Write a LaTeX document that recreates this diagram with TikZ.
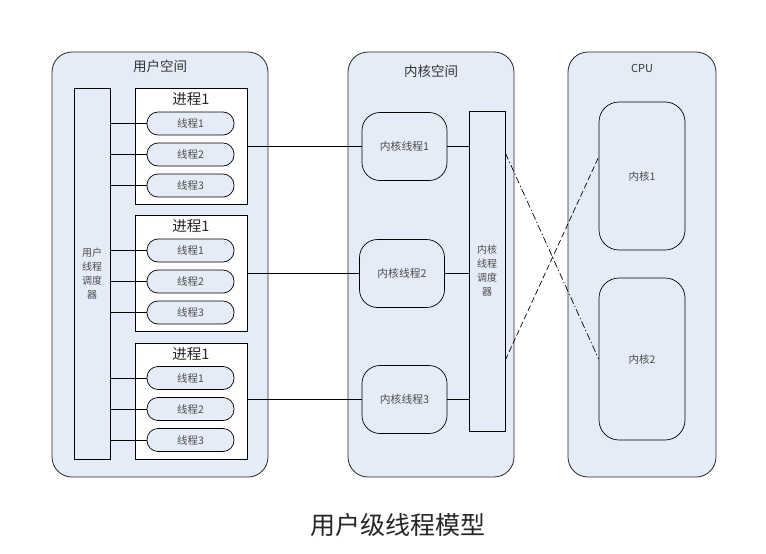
\documentclass[tikz,border=0pt]{standalone}
\usepackage{fontspec}
\setmainfont{Noto Sans CJK SC}
\definecolor{spacebg}{RGB}{230,236,247}
\tikzset{
  space/.style={draw=black!85, fill=spacebg, rounded corners=20pt, line width=0.8pt},
  bar/.style={draw, fill=spacebg, minimum width=36pt, align=center, font=\fontsize{10}{14}\selectfont, text=black!70},
  procbox/.style={draw, fill=white, minimum width=112pt, minimum height=116pt},
  thread/.style={draw, fill=spacebg, rounded corners=11pt, minimum width=87pt, minimum height=23pt, font=\fontsize{10.5}{12}\selectfont, text=black!70},
  kthread/.style={draw, fill=spacebg, rounded corners=18pt, minimum width=85pt, minimum height=68pt, font=\fontsize{10.8}{12}\selectfont, text=black!70},
  core/.style={draw, fill=spacebg, rounded corners=20pt, minimum width=86pt, font=\fontsize{10.5}{12}\selectfont, text=black!70},
  title/.style={font=\fontsize{13.5}{15}\selectfont, text=black!80, anchor=north},
}
\begin{document}
\begin{tikzpicture}[x=1pt, y=-1pt, line width=0.7pt]
  \useasboundingbox[fill=white] (0,0) rectangle (766,554);
  % three spaces
  \node[space, minimum width=216pt, minimum height=425pt] (user) at (160,264.5) {};
  \node[space, minimum width=166pt, minimum height=425pt] (kern) at (431,264.5) {};
  \node[space, minimum width=148pt, minimum height=425pt] (cpu) at (642,264.5) {};
  \node[title, yshift=-5pt] at (user.north) {用户空间};
  \node[title, yshift=-10pt] at (kern.north) {内核空间};
  \node[title, yshift=-9pt, font=\fontsize{11}{13}\selectfont] at (cpu.north) {CPU};

  % schedulers
  \node[bar, minimum height=371pt] (ubar) at (92,273.5) {用户\\线程\\调度\\器};
  \node[bar, minimum height=320pt] (kbar) at (487,271) {内核\\线程\\调度\\器};

  % kernel threads
  \node[kthread] (kt1) at (404.5,146.5) {内核线程1};
  \node[kthread] (kt2) at (402,273.5) {内核线程2};
  \node[kthread] (kt3) at (404.5,399.5) {内核线程3};
  \foreach \k in {1,2,3}{\draw (kt\k.east) -- (kt\k.east -| kbar.west);}

  % processes with their threads
  \foreach \p/\yc in {1/146.5,2/273.5,3/401}{
    \node[procbox] (p\p) at (191,\yc) {};
    \node[title, yshift=-1pt, font=\fontsize{14.5}{16}\selectfont, text=black!85] at (p\p.north) {进程1};
    \foreach \t/\dy in {1/-23,2/8,3/39}{
      \node[thread] (t\p\t) at (190.5,{\yc+\dy}) {线程\t};
      \draw (t\p\t.west -| ubar.east) -- (t\p\t.west);
    }
    \draw (kt\p.west -| p\p.east) -- (kt\p.west);
  }

  % cores
  \node[core, minimum height=148pt] (c1) at (642,176) {内核1};
  \node[core, minimum height=162pt] (c2) at (642,359) {内核2};

  % crossing lines
  \coordinate (k1) at (kbar.east |- 0,153);
  \coordinate (k2) at (kbar.east |- 0,360);
  \draw[dash pattern=on 7pt off 2.5pt on 1.2pt off 2.5pt] (k1) -- (c2.west);
  \draw[dash pattern=on 6pt off 3pt] (k2) -- (c1.west |- 0,157);

  \node[font=\fontsize{25}{28}\selectfont, text=black!85] (cap) at (398,525) {用户级线程模型};
\end{tikzpicture}
\end{document}
